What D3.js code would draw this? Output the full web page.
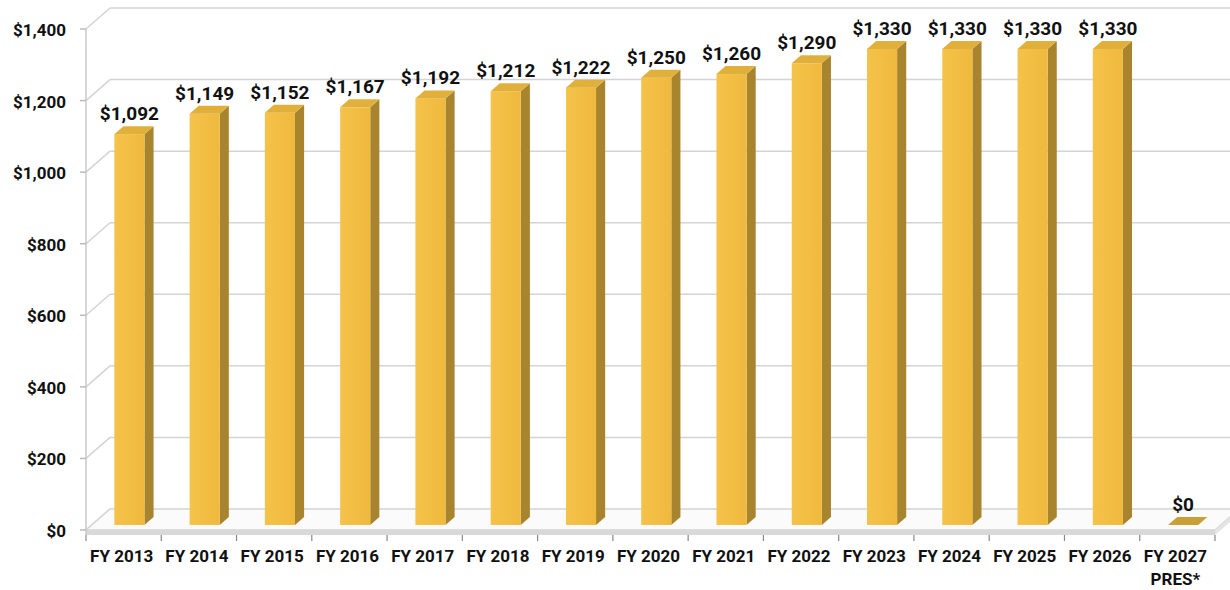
<!DOCTYPE html>
<html>
<head>
<meta charset="utf-8">
<script src="https://cdn.jsdelivr.net/npm/d3@7/dist/d3.min.js"></script>
<style>
  html, body { margin: 0; padding: 0; background: #fff; }
  svg { display: block; }
  text { font-family: Roboto, "Noto Sans", sans-serif; font-weight: 700; fill: #111; }
</style>
</head>
<body>
<div id="chart"></div>
<script>
var categories = ['FY 2013', 'FY 2014', 'FY 2015', 'FY 2016', 'FY 2017', 'FY 2018', 'FY 2019',
  'FY 2020', 'FY 2021', 'FY 2022', 'FY 2023', 'FY 2024', 'FY 2025', 'FY 2026', 'FY 2027\nPRES*'];
var values = [1092, 1149, 1152, 1167, 1192, 1212, 1222, 1250, 1260, 1290, 1330, 1330, 1330, 1330, 0];
var yTicks = [0, 200, 400, 600, 800, 1000, 1200, 1400];

var width = 1230,
  height = 590;

// 3D depth offset of the back wall, bars sit between depth f1 and f2
var DX = 24,
  DY = -21,
  f1 = 0.24,
  f2 = 0.62;

var svg = d3.select('#chart').append('svg')
  .attr('width', width)
  .attr('height', height);

var x = d3.scaleBand()
  .domain(categories)
  .range([86, 1215])
  .paddingInner(0.6)
  .paddingOuter(0.3);

var y = d3.scaleLinear()
  .domain([0, 1400])
  .range([530, 29]);

var step = x.step();
var x0 = x.range()[0],
  x1 = x.range()[1];

function pts(list) {
  return list.map(function(p) { return p[0] + ',' + p[1]; }).join(' ');
}

// walls: left wall diagonals + back wall gridlines
var grid = svg.append('g').attr('class', 'grid');
yTicks.forEach(function(t) {
  var yy = y(t);
  grid.append('line')
    .attr('x1', x0).attr('y1', yy)
    .attr('x2', x0 + DX).attr('y2', yy + DY)
    .attr('stroke', '#d4d4d4').attr('stroke-width', 1.5);
  if (t > 0)
    grid.append('line')
      .attr('x1', x0 + DX).attr('y1', yy + DY)
      .attr('x2', width).attr('y2', yy + DY)
      .attr('stroke', '#d4d4d4').attr('stroke-width', 1.5);
});

// floor
var fy = y(0);
svg.append('polygon')
  .attr('points', pts([[x0, fy], [x1, fy], [x1 + DX, fy + DY], [x0 + DX, fy + DY]]))
  .attr('fill', '#fbfbfb')
  .attr('stroke', '#d4d4d4').attr('stroke-width', 1.5);
svg.append('polygon')
  .attr('points', pts([[x0, fy], [x1, fy], [x1, fy + 5], [x0, fy + 5]]))
  .attr('fill', '#d9d9d9');
svg.append('polygon')
  .attr('points', pts([[x1, fy], [x1 + DX, fy + DY], [x1 + DX, fy + DY + 5], [x1, fy + 5]]))
  .attr('fill', '#e4e4e4');

// y axis
var yAxis = svg.append('g').attr('class', 'y-axis');
yAxis.append('line')
  .attr('x1', x0).attr('y1', y(1400))
  .attr('x2', x0).attr('y2', fy + 5)
  .attr('stroke', '#c8c8c8').attr('stroke-width', 1.5);
yAxis.selectAll('.tick')
  .data(yTicks)
  .enter().append('line')
    .attr('x1', x0 - 6).attr('x2', x0)
    .attr('y1', function(d) { return y(d); })
    .attr('y2', function(d) { return y(d); })
    .attr('stroke', '#bbb').attr('stroke-width', 1.5);
yAxis.selectAll('text')
  .data(yTicks)
  .enter().append('text')
    .attr('x', 66)
    .attr('y', function(d) { return y(d) + 7; })
    .attr('text-anchor', 'end')
    .style('font-size', '17px')
    .text(function(d) { return '$' + d3.format(',')(d); });

// x axis ticks + labels
var xAxis = svg.append('g').attr('class', 'x-axis');
d3.range(categories.length + 1).forEach(function(i) {
  var xx = x0 + i * step;
  xAxis.append('line')
    .attr('x1', xx).attr('x2', xx)
    .attr('y1', fy + 5).attr('y2', fy + 11)
    .attr('stroke', '#888').attr('stroke-width', 1.2);
});
xAxis.selectAll('text')
  .data(categories)
  .enter().append('text')
    .attr('x', function(d) { return x(d) + x.bandwidth() / 2 - 2; })
    .attr('y', 562)
    .attr('text-anchor', 'middle')
    .style('font-size', '17px')
    .each(function(d) {
      var el = d3.select(this);
      d.split('\n').forEach(function(line, i) {
        el.append('tspan')
          .attr('x', el.attr('x'))
          .attr('dy', i ? 23 : 0)
          .text(line);
      });
    });

// bars
var sx = f1 * DX,
  sy = f1 * DY,
  ddx = (f2 - f1) * DX,
  ddy = (f2 - f1) * DY;

var data = categories.map(function(c, i) { return {cat: c, value: values[i]}; });

var bars = svg.append('g').attr('class', 'bars')
  .selectAll('g')
  .data(data)
  .enter().append('g');

bars.each(function(d) {
  var g = d3.select(this);
  var l = x(d.cat) + sx,
    r = l + x.bandwidth(),
    top = y(d.value) + sy,
    bot = y(0) + sy;

  if (d.value > 0) {
    g.append('polygon')
      .attr('points', pts([[r, top], [r + ddx, top + ddy], [r + ddx, bot + ddy], [r, bot]]))
      .attr('fill', '#a9842e');
    g.append('rect')
      .attr('x', l).attr('y', top)
      .attr('width', r - l).attr('height', bot - top)
      .attr('fill', 'url(#front)');
  }
  g.append('polygon')
    .attr('points', pts([[l, top], [r, top], [r + ddx, top + ddy], [l + ddx, top + ddy]]))
    .attr('fill', d.value > 0 ? '#e0b03a' : '#c9a037');

  g.append('text')
    .attr('x', (l + r) / 2)
    .attr('y', top - 14)
    .attr('text-anchor', 'middle')
    .style('font-size', '19px')
    .text('$' + d3.format(',')(d.value));
});

var defs = svg.insert('defs', ':first-child');
var grad = defs.append('linearGradient').attr('id', 'front')
  .attr('x1', 0).attr('x2', 1).attr('y1', 0).attr('y2', 0);
grad.append('stop').attr('offset', '0%').attr('stop-color', '#f5c24a');
grad.append('stop').attr('offset', '100%').attr('stop-color', '#efb93d');
</script>
</body>
</html>
